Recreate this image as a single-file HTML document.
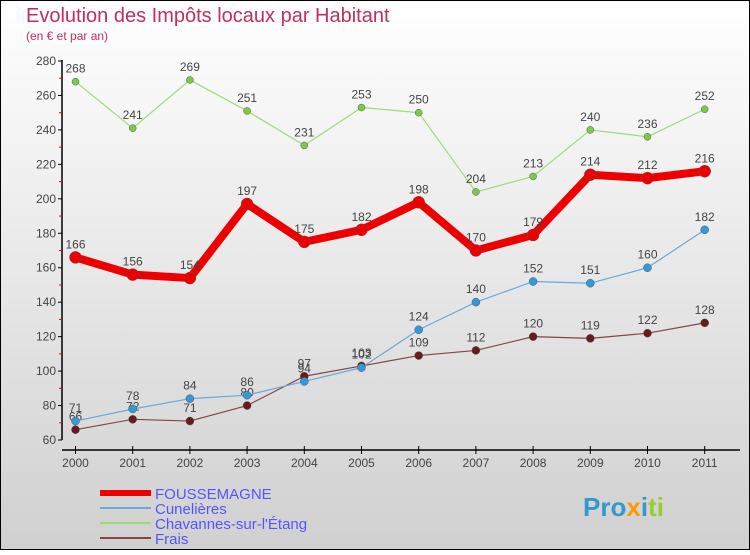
<!DOCTYPE html>
<html><head><meta charset="utf-8"><style>
body{margin:0}
#c{width:750px;height:550px;position:relative;font-family:"Liberation Sans",sans-serif}
</style></head><body>
<div id="c">
<svg id="s" width="750" height="550" xmlns="http://www.w3.org/2000/svg">
<defs><linearGradient id="bg" x1="0" y1="0" x2="0" y2="1"><stop offset="0" stop-color="#ffffff"/><stop offset="1" stop-color="#d0d0d0"/></linearGradient></defs>
<rect x="0.5" y="0.5" width="749" height="549" fill="url(#bg)" stroke="#000"/>
<text x="26" y="22" font-size="20" fill="#c0305a">Evolution des Impôts locaux par Habitant</text>
<text x="26" y="40" font-size="12" fill="#c0305a">(en € et par an)</text>
<g id="axes"></g><g id="series"></g><g id="legend"></g>
<text x="583" y="516" font-size="26" font-weight="bold" fill="#3399cc">Pro<tspan fill="#ff9900">x</tspan><tspan fill="#3399cc">i</tspan><tspan fill="#99cc33">ti</tspan></text>
</svg></div>
<script>
const years=[2000,2001,2002,2003,2004,2005,2006,2007,2008,2009,2010,2011];
const yTicks=[60,80,100,120,140,160,180,200,220,240,260,280];
const fouss=[166,156,154,197,175,182,198,170,179,214,212,216];
const cunel=[71,78,84,86,94,102,124,140,152,151,160,182];
const chav=[268,241,269,251,231,253,250,204,213,240,236,252];
const frais=[66,72,71,80,97,103,109,112,120,119,122,128];
const NS="http://www.w3.org/2000/svg";
const X=i=>75.5+i*57.2;
const Y=v=>440-(v-60)*(379/220);
function mk(t,a,p){const e=document.createElementNS(NS,t);for(const k in a)e.setAttribute(k,a[k]);p.appendChild(e);return e;}
const ax=document.getElementById('axes');
let e=mk('line',{x1:62,y1:60,x2:62,y2:440,stroke:'#000','stroke-width':1.5},ax);


e=mk('line',{x1:62,y1:450,x2:740,y2:450,stroke:'#000','stroke-width':1.5},ax);


yTicks.forEach((v,i)=>{
 mk('line',{x1:58,x2:62,y1:Y(v),y2:Y(v),stroke:'#000'},ax);
 if(i<yTicks.length-1)mk('line',{x1:59,x2:62,y1:Y(v+10),y2:Y(v+10),stroke:'#e00'},ax);
 const t=mk('text',{x:56,y:Y(v)+4,'text-anchor':'end','font-size':12,fill:'#444'},ax);t.textContent=v;
 
 
});
years.forEach((y,i)=>{
 mk('line',{x1:X(i),x2:X(i),y1:446,y2:454,stroke:'#000'},ax);
 const t=mk('text',{x:X(i),y:467,'text-anchor':'middle','font-size':12,fill:'#444'},ax);t.textContent=y;
 
 
});
const sg=document.getElementById('series');
function series(d,color,w,r,name,dot){
 const g=mk('g',{},sg);
 
 
 const l=mk('polyline',{points:d.map((v,i)=>X(i)+','+Y(v)).join(' '),fill:'none',stroke:color,'stroke-width':w,'stroke-linejoin':'round'},g);
 
 
 d.forEach((v,i)=>{
  const c=mk('circle',{cx:X(i),cy:Y(v),r:r,fill:dot,stroke:'#555','stroke-width':0.5},g);
  
  
  const t=mk('text',{x:X(i),y:Y(v)-9,'text-anchor':'middle','font-size':12,fill:'#444'},g);t.textContent=v;
  
  
 });
}
series(chav,'#99dd77',1.2,3.5,'chavannes','#77cc44');
series(frais,'#884444',1.2,4,'frais','#6b1a1a');
series(cunel,'#66aadd',1.2,4,'cunelieres','#3399dd');
series(fouss,'#ee0000',8,6,'foussemagne','#ee0000');
const lg=document.getElementById('legend');
[['FOUSSEMAGNE','#ee0000',6],['Cunelières','#66aadd',2],['Chavannes-sur-l\'Étang','#99dd77',2],['Frais','#884444',2]].forEach((s,i)=>{
 const y=493+i*15;
 const l=mk('line',{x1:100,x2:151,y1:y,y2:y,stroke:s[1],'stroke-width':s[2]},lg);
 
 
 const t=mk('text',{x:155,y:y+6,'font-size':15,fill:'#5555ff'},lg);t.textContent=s[0];
 
 
});
</script>
</body></html>
